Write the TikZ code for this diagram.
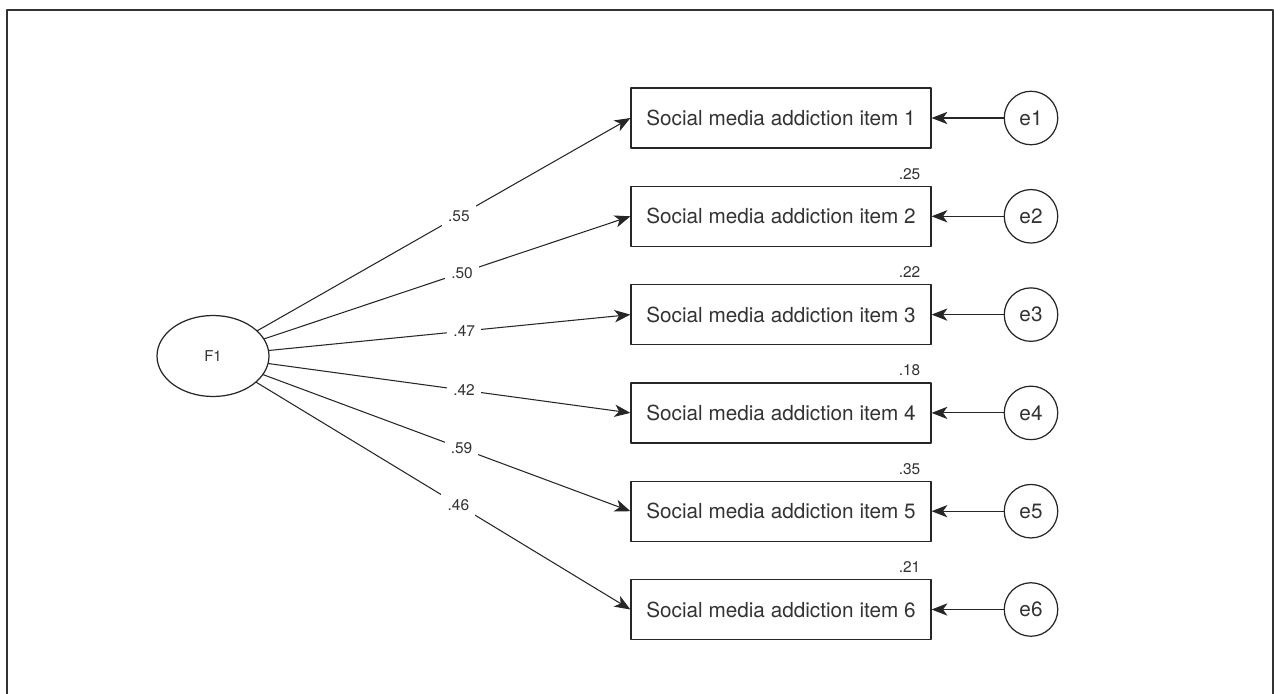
\documentclass[tikz,border=0pt]{standalone}
\usepackage{fontspec}
\setmainfont{TeX Gyre Heros}
\usepackage{tikz}
\usetikzlibrary{arrows.meta,shapes.geometric}

\begin{document}
\begin{tikzpicture}[line cap=round, line join=round, x=0.02cm, y=-0.02cm,
    every node/.style={text=black!80},
    item/.style={draw=black!85, line width=0.7pt, minimum width=6cm, minimum height=1.2cm,
        inner sep=0pt, font=\fontsize{11.8}{13}\selectfont},
    err/.style={draw=black!85, line width=0.7pt, circle, minimum size=1.07cm, inner sep=0pt,
        font=\fontsize{11.8}{13}\selectfont},
    latent/.style={draw=black!85, line width=0.7pt, ellipse, minimum width=2.24cm,
        minimum height=1.62cm, inner sep=0pt, font=\fontsize{8.5}{10}\selectfont},
    coef/.style={fill=white, inner sep=3.5pt, pos=0.54, font=\fontsize{8.8}{10}\selectfont},
    rsq/.style={anchor=base east, inner sep=0pt, font=\fontsize{8.8}{10}\selectfont},
    load/.style={draw=black!85, line width=0.6pt, -{Stealth[length=9pt, width=7pt, inset=2.5pt]}}]
    \useasboundingbox (0, 0) rectangle (1274, 693);
    \clip (0, 0) rectangle (1274, 693);

    % frame
    \draw[black!80, line width=1.1pt] (7, 720) -- (7, 10) -- (1273, 10) -- (1273, 720);

    % latent factor
    \node[latent] (F1) at (213, 356) {F1};

    % Item 1
    \node[item] (item1) at (781, 118) {Social media addiction item 1};
    \node[err] (e1) at (1031, 118) {e1};

    % Item 2
    \node[item] (item2) at (781, 216.3) {Social media addiction item 2};
    \node[err] (e2) at (1031, 216.3) {e2};
    \node[rsq] at ([xshift=-0.22cm, yshift=0.13cm]item2.north east) {.25};

    % Item 3
    \node[item] (item3) at (781, 314.6) {Social media addiction item 3};
    \node[err] (e3) at (1031, 314.6) {e3};
    \node[rsq] at ([xshift=-0.22cm, yshift=0.13cm]item3.north east) {.22};

    % Item 4
    \node[item] (item4) at (781, 412.9) {Social media addiction item 4};
    \node[err] (e4) at (1031, 412.9) {e4};
    \node[rsq] at ([xshift=-0.22cm, yshift=0.13cm]item4.north east) {.18};

    % Item 5
    \node[item] (item5) at (781, 511.2) {Social media addiction item 5};
    \node[err] (e5) at (1031, 511.2) {e5};
    \node[rsq] at ([xshift=-0.22cm, yshift=0.13cm]item5.north east) {.35};

    % Item 6
    \node[item] (item6) at (781, 609.5) {Social media addiction item 6};
    \node[err] (e6) at (1031, 609.5) {e6};
    \node[rsq] at ([xshift=-0.22cm, yshift=0.13cm]item6.north east) {.21};

    % loadings
    \draw[load] (F1) -- node[coef] {.55} (item1.west);
    \draw[load] (F1) -- node[coef] {.50} (item2.west);
    \draw[load] (F1) -- node[coef] {.47} (item3.west);
    \draw[load] (F1) -- node[coef] {.42} (item4.west);
    \draw[load] (F1) -- node[coef] {.59} (item5.west);
    \draw[load] (F1) -- node[coef] {.46} (item6.west);

    % errors
    \draw[load] (e1) -- (item1.east);
    \draw[load] (e2) -- (item2.east);
    \draw[load] (e3) -- (item3.east);
    \draw[load] (e4) -- (item4.east);
    \draw[load] (e5) -- (item5.east);
    \draw[load] (e6) -- (item6.east);
\end{tikzpicture}
\end{document}
